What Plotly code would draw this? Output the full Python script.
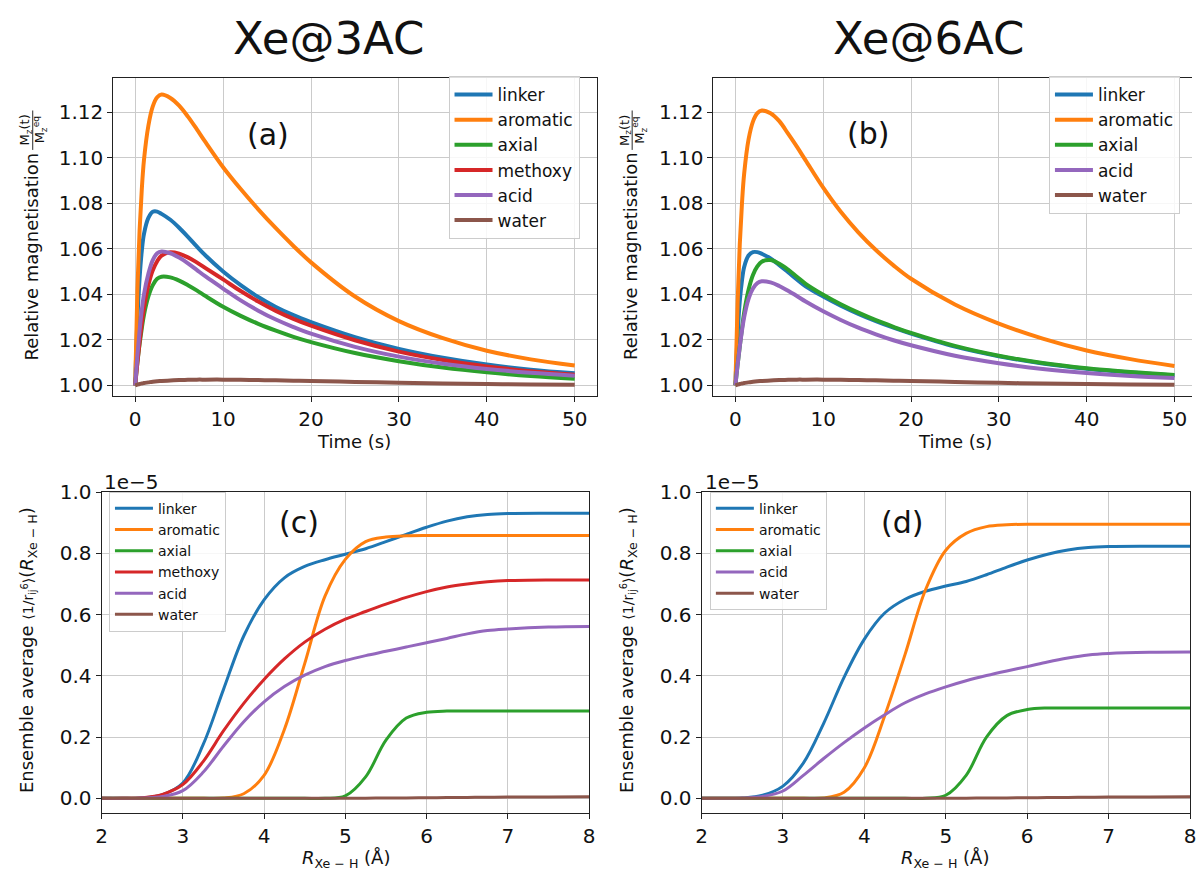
import plotly.graph_objects as go

# ---------------- data ----------------
# Relative magnetisation vs time (s)
time_s = [0, 0.25, 0.5, 0.75, 1, 1.5, 2, 2.5, 3, 4, 5, 6, 7, 8, 10, 12, 14, 16, 18, 20,
          25, 30, 35, 40, 45, 50]

mag_3ac_linker = [1.0, 1.029, 1.047, 1.059, 1.0665, 1.0735, 1.0762, 1.0763, 1.0753, 1.0727,
                  1.0692, 1.0652, 1.0610, 1.0570, 1.0500, 1.0440, 1.0388, 1.0344, 1.0308, 1.0278,
                  1.0212, 1.0160, 1.0121, 1.0091, 1.0069, 1.0053]
mag_3ac_aromatic = [1.0, 1.042, 1.068, 1.086, 1.099, 1.114, 1.1225, 1.1265, 1.1277, 1.1262,
                    1.1228, 1.118, 1.1125, 1.1068, 1.0958, 1.0862, 1.0773, 1.069, 1.0612, 1.054,
                    1.0390, 1.0282, 1.0207, 1.0152, 1.0114, 1.0087]
mag_3ac_axial = [1.0, 1.010, 1.018, 1.025, 1.031, 1.039, 1.0440, 1.0468, 1.0477, 1.0474,
                 1.0460, 1.0440, 1.0417, 1.0392, 1.0345, 1.0305, 1.0270, 1.0240, 1.0213, 1.0190,
                 1.0142, 1.0106, 1.0078, 1.0057, 1.0041, 1.0029]
mag_3ac_methoxy = [1.0, 1.010, 1.019, 1.027, 1.034, 1.044, 1.0505, 1.0545, 1.0570, 1.0584,
                   1.0578, 1.0562, 1.0540, 1.0515, 1.0465, 1.0414, 1.0368, 1.0327, 1.0292, 1.0262,
                   1.0198, 1.0148, 1.0111, 1.0083, 1.0062, 1.0046]
mag_3ac_acid = [1.0, 1.013, 1.024, 1.033, 1.040, 1.049, 1.0550, 1.0580, 1.0588, 1.0580,
                1.0561, 1.0536, 1.0507, 1.0478, 1.0425, 1.0373, 1.0328, 1.0289, 1.0256, 1.0227,
                1.0169, 1.0126, 1.0095, 1.0072, 1.0055, 1.0042]
mag_3ac_water = [1.0, 1.0003, 1.0006, 1.0008, 1.0010, 1.0013, 1.0016, 1.0018, 1.0019, 1.0021,
                 1.0023, 1.0024, 1.0025, 1.0025, 1.0025, 1.0024, 1.0023, 1.0022, 1.0020, 1.0019,
                 1.0015, 1.0011, 1.0008, 1.0006, 1.0004, 1.0003]

mag_6ac_linker = [1.0, 1.022, 1.037, 1.046, 1.052, 1.057, 1.0585, 1.0585, 1.0578, 1.0557,
                  1.0528, 1.0497, 1.0465, 1.0435, 1.0390, 1.0350, 1.0314, 1.0282, 1.0253, 1.0227,
                  1.0170, 1.0128, 1.0096, 1.0073, 1.0056, 1.0043]
mag_6ac_aromatic = [1.0, 1.036, 1.062, 1.080, 1.093, 1.108, 1.1158, 1.1195, 1.1207, 1.1195,
                    1.1160, 1.1105, 1.1048, 1.0988, 1.0868, 1.0762, 1.0672, 1.0594, 1.0527, 1.0468,
                    1.0355, 1.0271, 1.0205, 1.0153, 1.0115, 1.0085]
mag_6ac_axial = [1.0, 1.009, 1.017, 1.025, 1.032, 1.042, 1.0485, 1.0522, 1.0543, 1.0550,
                 1.0534, 1.0508, 1.0477, 1.0446, 1.0398, 1.0356, 1.0319, 1.0286, 1.0257, 1.0230,
                 1.0173, 1.0130, 1.0098, 1.0075, 1.0058, 1.0045]
mag_6ac_acid = [1.0, 1.009, 1.017, 1.024, 1.030, 1.038, 1.0425, 1.0449, 1.0457, 1.0452,
                1.0436, 1.0415, 1.0392, 1.0368, 1.0325, 1.0287, 1.0253, 1.0224, 1.0198, 1.0176,
                1.0130, 1.0097, 1.0072, 1.0054, 1.0041, 1.0032]
mag_6ac_water = [1.0, 1.0003, 1.0006, 1.0008, 1.0010, 1.0013, 1.0016, 1.0018, 1.0019, 1.0021,
                 1.0023, 1.0024, 1.0025, 1.0025, 1.0025, 1.0024, 1.0023, 1.0022, 1.0020, 1.0019,
                 1.0015, 1.0011, 1.0008, 1.0006, 1.0004, 1.0003]

# Ensemble average <1/r^6> vs R_Xe-H (Angstrom), in units of 1e-5
r_xe_h = [2, 2.25, 2.5, 2.75, 3, 3.25, 3.5, 3.75, 4, 4.25, 4.5, 4.75, 5, 5.25, 5.5, 5.75,
          6, 6.25, 6.5, 6.75, 7, 7.5, 8]

avg_3ac_linker = [0, 0, 0.001, 0.012, 0.050, 0.175, 0.355, 0.530, 0.648, 0.720, 0.757, 0.779, 0.797,
                  0.815, 0.838, 0.862, 0.885, 0.905, 0.919, 0.927, 0.930, 0.931, 0.931]
avg_3ac_aromatic = [0, 0, 0, 0, 0, 0, 0.001, 0.015, 0.075, 0.225, 0.440, 0.660, 0.780,
                    0.838, 0.853, 0.857, 0.858, 0.858, 0.858, 0.858, 0.858, 0.858, 0.858]
avg_3ac_axial = [0, 0, 0, 0, 0, 0, 0, 0, 0, 0, 0, 0, 0.008,
                 0.070, 0.190, 0.262, 0.281, 0.285, 0.285, 0.285, 0.285, 0.285, 0.285]
avg_3ac_methoxy = [0, 0, 0.002, 0.013, 0.045, 0.120, 0.220, 0.310, 0.388, 0.455, 0.510, 0.552, 0.585,
                   0.610, 0.634, 0.656, 0.675, 0.690, 0.700, 0.707, 0.711, 0.713, 0.713]
avg_3ac_acid = [0, 0, 0.001, 0.006, 0.025, 0.085, 0.170, 0.250, 0.315, 0.365, 0.402, 0.430, 0.450,
                0.466, 0.480, 0.494, 0.508, 0.522, 0.537, 0.548, 0.553, 0.559, 0.561]
avg_3ac_water = [0, 0, 0, 0, 0, 0, 0, 0, 0, 0, 0, 0, 0,
                 0.0005, 0.001, 0.0015, 0.002, 0.0025, 0.003, 0.0035, 0.004, 0.0045, 0.005]

avg_6ac_linker = [0, 0, 0.001, 0.010, 0.040, 0.115, 0.245, 0.395, 0.520, 0.605, 0.650, 0.676, 0.693,
                  0.708, 0.730, 0.755, 0.778, 0.797, 0.811, 0.819, 0.822, 0.823, 0.823]
avg_6ac_aromatic = [0, 0, 0, 0, 0, 0, 0.001, 0.020, 0.100, 0.270, 0.470, 0.680, 0.810,
                    0.865, 0.887, 0.893, 0.895, 0.895, 0.895, 0.895, 0.895, 0.895, 0.895]
avg_6ac_axial = [0, 0, 0, 0, 0, 0, 0, 0, 0, 0, 0, 0, 0.010,
                 0.075, 0.200, 0.270, 0.290, 0.295, 0.295, 0.295, 0.295, 0.295, 0.295]
avg_6ac_acid = [0, 0, 0.001, 0.006, 0.024, 0.075, 0.130, 0.182, 0.230, 0.273, 0.312, 0.341, 0.364,
                0.384, 0.401, 0.416, 0.430, 0.445, 0.458, 0.468, 0.473, 0.477, 0.478]
avg_6ac_water = [0, 0, 0, 0, 0, 0, 0, 0, 0, 0, 0, 0, 0,
                 0.0005, 0.001, 0.0015, 0.002, 0.0025, 0.003, 0.0035, 0.004, 0.0045, 0.005]

group_colors = {
    "linker": "#1f77b4",
    "aromatic": "#ff7f0e",
    "axial": "#2ca02c",
    "methoxy": "#d62728",
    "acid": "#9467bd",
    "water": "#8c564b",
}

# ---------------- figure ----------------
W, H = 1198, 872
FONT = "DejaVu Sans"

fig = go.Figure()


def px_x(p):
    return p / W


def px_y(p):
    return 1 - p / H


panels = [
    # (xaxis id, yaxis id, legend id, x values, series, line width)
    ("x", "y", "legend", time_s, [
        ("linker", mag_3ac_linker), ("aromatic", mag_3ac_aromatic), ("axial", mag_3ac_axial),
        ("methoxy", mag_3ac_methoxy), ("acid", mag_3ac_acid), ("water", mag_3ac_water)], 4),
    ("x2", "y2", "legend2", time_s, [
        ("linker", mag_6ac_linker), ("aromatic", mag_6ac_aromatic), ("axial", mag_6ac_axial),
        ("acid", mag_6ac_acid), ("water", mag_6ac_water)], 4),
    ("x3", "y3", "legend3", r_xe_h, [
        ("linker", avg_3ac_linker), ("aromatic", avg_3ac_aromatic), ("axial", avg_3ac_axial),
        ("methoxy", avg_3ac_methoxy), ("acid", avg_3ac_acid), ("water", avg_3ac_water)], 3),
    ("x4", "y4", "legend4", r_xe_h, [
        ("linker", avg_6ac_linker), ("aromatic", avg_6ac_aromatic), ("axial", avg_6ac_axial),
        ("acid", avg_6ac_acid), ("water", avg_6ac_water)], 3),
]

for xa, ya, lg, xs, series, lw in panels:
    for name, ys in series:
        fig.add_trace(go.Scatter(
            x=xs, y=ys, name=name, mode="lines",
            line=dict(color=group_colors[name], width=lw, shape="spline", smoothing=1.0),
            xaxis=xa, yaxis=ya, legend=lg,
        ))

axis_common = dict(
    showgrid=True, gridcolor="#cbcbcb", gridwidth=1,
    zeroline=False, showline=True, linecolor="#222222", linewidth=1,
    ticks="outside", ticklen=5, tickcolor="#222222", tickwidth=1,
    tickfont=dict(family=FONT, size=20, color="#111111"),
)

top_y = [px_y(390.3), px_y(66.7)]
bot_y = [px_y(812.7), px_y(487.3)]

fig.update_layout(
    xaxis=dict(axis_common, domain=[px_x(108.3), px_x(596.7)], range=[-2.5, 52.5],
               tickvals=[0, 10, 20, 30, 40, 50], mirror=True, anchor="y"),
    yaxis=dict(axis_common, domain=top_y, range=[0.9951, 1.1351],
               tickvals=[1.00, 1.02, 1.04, 1.06, 1.08, 1.10, 1.12], tickformat=".2f",
               mirror=True, anchor="x"),
    xaxis2=dict(axis_common, domain=[px_x(714.6), 1.0], range=[-2.5, 52.0],
                tickvals=[0, 10, 20, 30, 40, 50], mirror=True, anchor="y2"),
    yaxis2=dict(axis_common, domain=top_y, range=[0.9951, 1.1351],
                tickvals=[1.00, 1.02, 1.04, 1.06, 1.08, 1.10, 1.12], tickformat=".2f",
                mirror=False, anchor="x2"),
    xaxis3=dict(axis_common, domain=[px_x(96.5), px_x(589)], range=[2, 8],
                tickvals=[2, 3, 4, 5, 6, 7, 8], mirror=True, anchor="y3"),
    yaxis3=dict(axis_common, domain=bot_y, range=[-0.0465, 1.0],
                tickvals=[0, 0.2, 0.4, 0.6, 0.8, 1.0], tickformat=".1f",
                mirror=True, anchor="x3"),
    xaxis4=dict(axis_common, domain=[px_x(702.6), px_x(1196)], range=[2, 8],
                tickvals=[2, 3, 4, 5, 6, 7, 8], mirror=True, anchor="y4"),
    yaxis4=dict(axis_common, domain=bot_y, range=[-0.0465, 1.0],
                tickvals=[0, 0.2, 0.4, 0.6, 0.8, 1.0], tickformat=".1f",
                mirror=True, anchor="x4"),
)

legend_common = dict(
    bgcolor="rgba(255,255,255,0.85)", bordercolor="#cccccc", borderwidth=1,
    xanchor="left", yanchor="top", itemwidth=38, tracegroupgap=0,
)
fig.update_layout(
    legend=dict(legend_common, x=px_x(447), y=px_y(65),
                font=dict(family=FONT, size=17, color="#111111")),
    legend2=dict(legend_common, x=px_x(1053.5), y=px_y(65),
                 font=dict(family=FONT, size=17, color="#111111")),
    legend3=dict(legend_common, x=px_x(104), y=px_y(487),
                 font=dict(family=FONT, size=14, color="#111111")),
    legend4=dict(legend_common, x=px_x(711), y=px_y(487),
                 font=dict(family=FONT, size=14, color="#111111")),
)

annotations = []


def add_text(text, x, y, size, angle=0, xanchor="center", yanchor="middle"):
    annotations.append(dict(
        text=text, x=px_x(x), y=px_y(y), xref="paper", yref="paper",
        showarrow=False, xanchor=xanchor, yanchor=yanchor, textangle=angle,
        font=dict(family=FONT, size=size, color="#111111"),
    ))


# column titles
add_text("Xe@3AC", 326.5, 27, 45)
add_text("Xe@6AC", 932, 27, 45)

# panel tags
add_text("(a)", 264.6, 124, 30)
add_text("(b)", 870.4, 123.3, 30)
add_text("(c)", 296.2, 518.3, 30)
add_text("(d)", 905.4, 518, 30)

# y-axis titles of the magnetisation panels: text plus a small stacked fraction
shapes = []
for x0 in (25.5, 631):
    add_text("Relative magnetisation", x0, 248, 18, angle=-90)
    add_text("M<sub>z</sub>(t)", x0 - 6, 120, 13, angle=-90)
    add_text("M<sub>z</sub><sup>eq</sup>", x0 + 9, 120, 13, angle=-90)
    shapes.append(dict(type="line", xref="paper", yref="paper",
                       x0=px_x(x0 + 1.5), x1=px_x(x0 + 1.5), y0=px_y(100), y1=px_y(140),
                       line=dict(color="#111111", width=0.9)))

# y-axis titles of the distance panels
avg_label = ("Ensemble average <span style='font-size:14px'>"
             "\u27e81/r<sub>ij</sub><sup>6</sup>\u27e9</span>(<i>R</i><sub>Xe \u2212 H</sub>)")
add_text(avg_label, 23, 648, 18, angle=-90)
add_text(avg_label, 629, 648, 18, angle=-90)

add_text("Time (s)", 352, 436, 18)
add_text("Time (s)", 959, 436, 18)
r_label = "<i>R</i><sub>Xe \u2212 H</sub> (\u00c5)"
add_text(r_label, 343, 860, 18)
add_text(r_label, 949, 860, 18)

# scale factor of the lower panels
add_text("1e\u22125", 96.7, 477, 20, xanchor="left")
add_text("1e\u22125", 704, 477, 20, xanchor="left")

fig.update_layout(
    annotations=annotations,
    shapes=shapes,
    width=W, height=H,
    margin=dict(l=0, r=0, t=0, b=0),
    paper_bgcolor="white", plot_bgcolor="white",
    font=dict(family=FONT, color="#111111"),
)

fig.write_html("out.html", include_plotlyjs=True, config={"displayModeBar": False})
